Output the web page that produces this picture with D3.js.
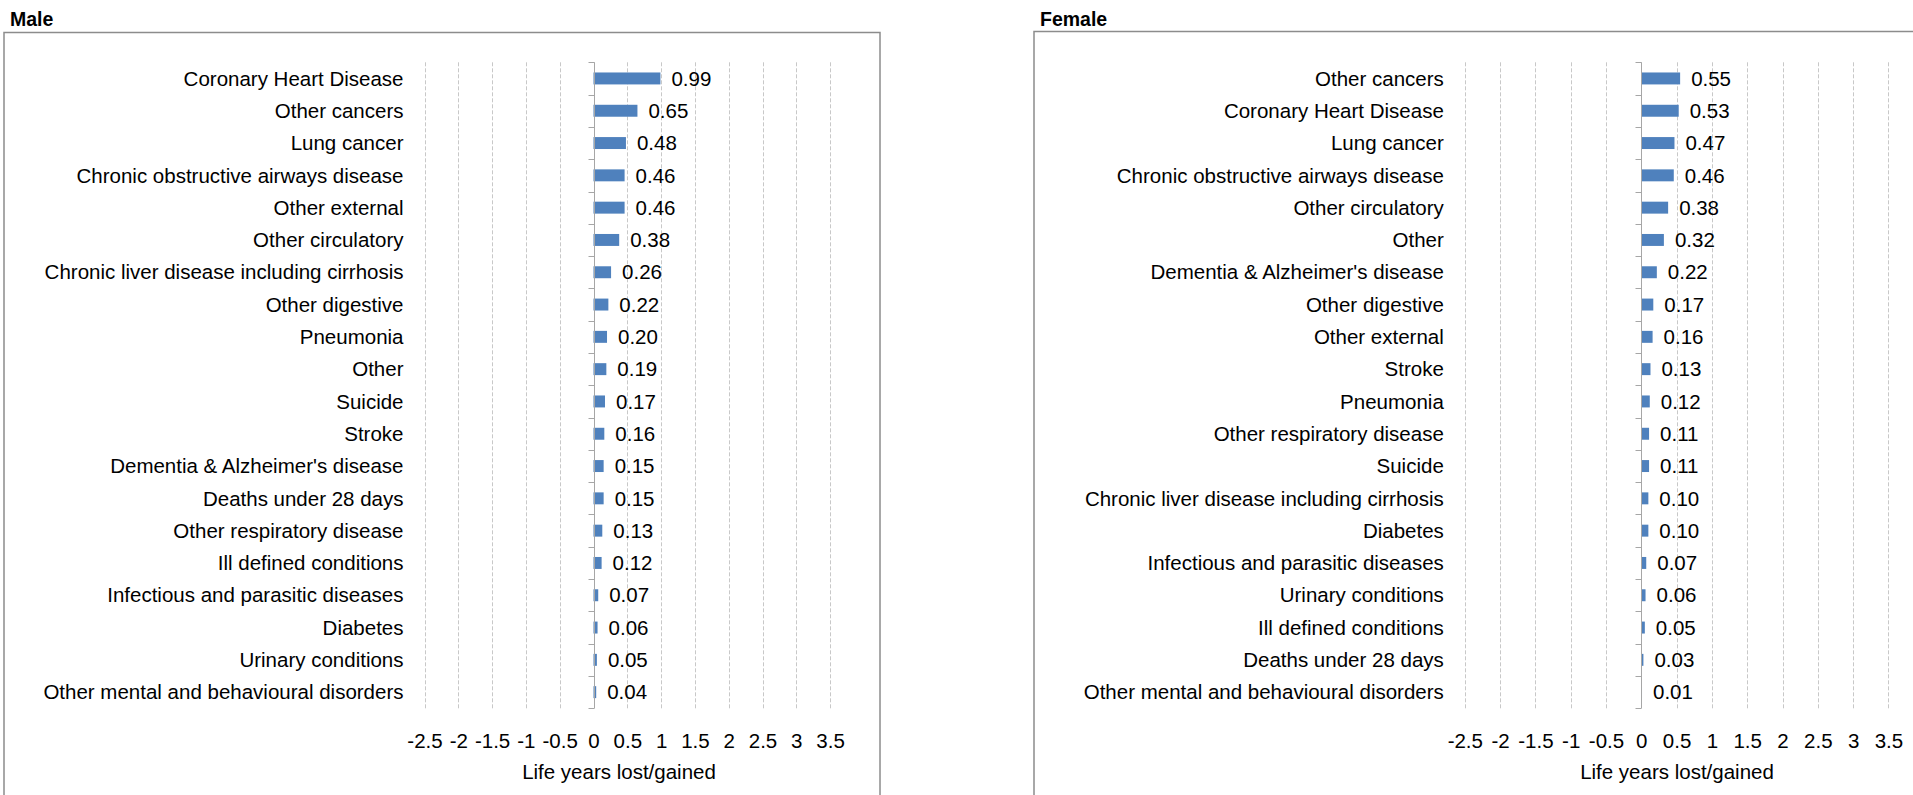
<!DOCTYPE html>
<html>
<head>
<meta charset="utf-8">
<script src="https://cdn.jsdelivr.net/npm/d3@7"></script>
<style>
  html, body { margin: 0; padding: 0; background: #fff; }
  svg { display: block; font-family: "Liberation Sans", Arial, sans-serif; }
</style>
</head>
<body>
<svg id="chart" width="1913" height="795"></svg>
<script>
// ---- DATA ----
const maleCategories = [
  "Coronary Heart Disease", "Other cancers", "Lung cancer",
  "Chronic obstructive airways disease", "Other external", "Other circulatory",
  "Chronic liver disease including cirrhosis", "Other digestive", "Pneumonia",
  "Other", "Suicide", "Stroke", "Dementia & Alzheimer's disease",
  "Deaths under 28 days", "Other respiratory disease", "Ill defined conditions",
  "Infectious and parasitic diseases", "Diabetes", "Urinary conditions",
  "Other mental and behavioural disorders"
];
const maleValues = [0.99, 0.65, 0.48, 0.46, 0.46, 0.38, 0.26, 0.22, 0.20, 0.19,
  0.17, 0.16, 0.15, 0.15, 0.13, 0.12, 0.07, 0.06, 0.05, 0.04];

const femaleCategories = [
  "Other cancers", "Coronary Heart Disease", "Lung cancer",
  "Chronic obstructive airways disease", "Other circulatory", "Other",
  "Dementia & Alzheimer's disease", "Other digestive", "Other external",
  "Stroke", "Pneumonia", "Other respiratory disease", "Suicide",
  "Chronic liver disease including cirrhosis", "Diabetes",
  "Infectious and parasitic diseases", "Urinary conditions",
  "Ill defined conditions", "Deaths under 28 days",
  "Other mental and behavioural disorders"
];
const femaleValues = [0.55, 0.53, 0.47, 0.46, 0.38, 0.32, 0.22, 0.17, 0.16,
  0.13, 0.12, 0.11, 0.11, 0.10, 0.10, 0.07, 0.06, 0.05, 0.03, 0.01];

const xTicks = [-2.5, -2, -1.5, -1, -0.5, 0, 0.5, 1, 1.5, 2, 2.5, 3, 3.5];
const xTickLabels = ["-2.5", "-2", "-1.5", "-1", "-0.5", "0", "0.5", "1", "1.5", "2", "2.5", "3", "3.5"];
const xDomain = [-2.5, 3.5];
const axisTitle = "Life years lost/gained";
const panelTitles = ["Male", "Female"];

// ---- LAYOUT ----
const svg = d3.select("#chart");
const panels = [
  { title: panelTitles[0], cats: maleCategories, vals: maleValues,
    titleX: 10, box: [4, 32.5, 876, 800], xr: [424.5, 830.1], axisTitleX: 619 },
  { title: panelTitles[1], cats: femaleCategories, vals: femaleValues,
    titleX: 1040, box: [1034, 31.5, 900, 800], xr: [1464.8, 1888.4], axisTitleX: 1677 }
];
const yTop = 62.3, yBot = 708.3;
const FONT = 20.5;

panels.forEach(p => {
  const g = svg.append("g");

  g.append("text")
    .attr("x", p.titleX).attr("y", 26)
    .attr("font-size", 19.5).attr("font-weight", "bold").attr("fill", "#000")
    .text(p.title);

  g.append("rect")
    .attr("x", p.box[0]).attr("y", p.box[1])
    .attr("width", p.box[2]).attr("height", p.box[3])
    .attr("fill", "none").attr("stroke", "#8c8c8c").attr("stroke-width", 1.5);

  const x = d3.scaleLinear().domain(xDomain).range(p.xr);
  const y = d3.scaleBand().domain(p.cats).range([yTop, yBot])
    .paddingInner(0.63).paddingOuter(0.315);

  // gridlines
  g.append("g").selectAll("line")
    .data(xTicks.filter(t => t !== 0))
    .join("line")
    .attr("x1", d => Math.round(x(d)) + 0.5).attr("x2", d => Math.round(x(d)) + 0.5)
    .attr("y1", yTop).attr("y2", yBot)
    .attr("stroke", "#c8c8c8").attr("stroke-width", 1)
    .attr("stroke-dasharray", "4,2");

  // x tick labels (no axis line)
  const xAxis = d3.axisBottom(x).tickValues(xTicks)
    .tickFormat((d, i) => xTickLabels[i]).tickSize(0).tickPadding(0);
  const xg = g.append("g").attr("transform", "translate(0, 741)").call(xAxis);
  xg.select(".domain").remove();
  xg.selectAll("text")
    .attr("font-size", FONT).attr("font-family", null).attr("fill", "#000")
    .attr("dy", "0.35em").attr("y", 0);

  // axis title
  g.append("text")
    .attr("x", p.axisTitleX).attr("y", 772).attr("dy", "0.35em")
    .attr("text-anchor", "middle").attr("font-size", FONT).attr("fill", "#000")
    .text(axisTitle);

  // bars
  g.append("g").selectAll("rect")
    .data(p.vals)
    .join("rect")
    .attr("x", d => x(0))
    .attr("y", (d, i) => y(p.cats[i]))
    .attr("width", d => Math.max(0, x(d) - x(0)))
    .attr("height", y.bandwidth())
    .attr("fill", "#4f81bd");

  // value labels
  g.append("g").selectAll("text")
    .data(p.vals)
    .join("text")
    .attr("x", d => x(d) + 11)
    .attr("y", (d, i) => y(p.cats[i]) + y.bandwidth() / 2)
    .attr("dy", "0.35em")
    .attr("font-size", FONT).attr("fill", "#000")
    .text(d => d.toFixed(2));

  // vertical category axis at zero
  const step = y.step();
  const yAxisG = g.append("g");
  yAxisG.append("line")
    .attr("x1", Math.round(x(0)) + 0.5).attr("x2", Math.round(x(0)) + 0.5)
    .attr("y1", yTop).attr("y2", yBot)
    .attr("stroke", "#a6a6a6").attr("stroke-width", 1);
  yAxisG.selectAll("line.tick")
    .data(d3.range(p.cats.length + 1))
    .join("line").attr("class", "tick")
    .attr("x1", Math.round(x(0)) + 0.5 - 6).attr("x2", Math.round(x(0)) + 0.5)
    .attr("y1", i => Math.round(yTop + i * step) + 0.5)
    .attr("y2", i => Math.round(yTop + i * step) + 0.5)
    .attr("stroke", "#a6a6a6").attr("stroke-width", 1);

  // category labels
  g.append("g").selectAll("text")
    .data(p.cats)
    .join("text")
    .attr("x", p.xr[0] - 21)
    .attr("y", d => y(d) + y.bandwidth() / 2)
    .attr("dy", "0.35em")
    .attr("text-anchor", "end")
    .attr("font-size", FONT).attr("fill", "#000")
    .text(d => d);
});
</script>
</body>
</html>
